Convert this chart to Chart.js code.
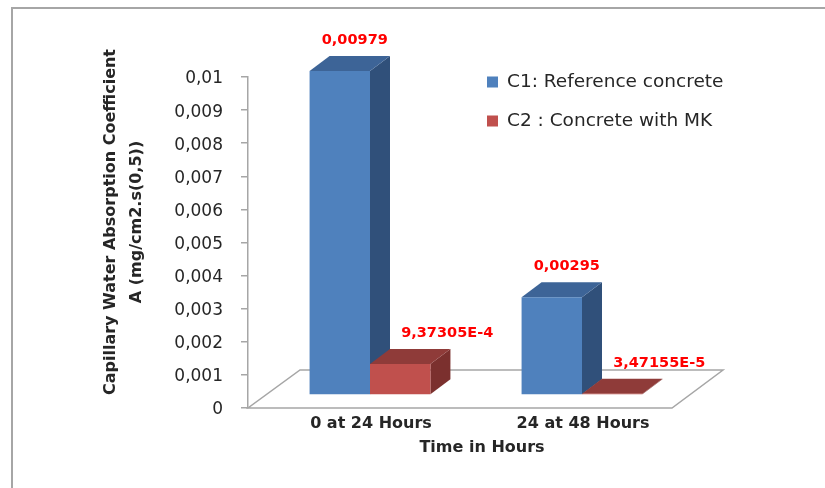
<!DOCTYPE html>
<html>
<head>
<meta charset="utf-8">
<script src="https://cdn.jsdelivr.net/npm/chart.js@4.4.0/dist/chart.umd.min.js"></script>
<style>
  html, body { margin: 0; padding: 0; background: #fff; }
</style>
</head>
<body>
<canvas id="myChart" width="825" height="488"></canvas>
<script>
// Datos del grafico
const categorias = ["0 at 24 Hours", "24 at 48 Hours"];
const nombresSeries = ["C1: Reference concrete", "C2 : Concrete with MK"];
const valoresC1 = [0.00979, 0.00295];
const valoresC2 = [0.000937305, 0.0000347155];
const tituloY = ["Capillary Water Absorption Coefficient", "A (mg/cm2.s(0,5))"];
const tituloX = "Time in Hours";

// Colores estilo Excel 2007 (frente, arriba, lado)
const coloresC1 = { frente: "#4F81BD", arriba: "#3D6497", lado: "#30507A" };
const coloresC2 = { frente: "#C0504D", arriba: "#8F3B39", lado: "#7B302E" };

const FUENTE = "'DejaVu Sans', sans-serif";
Chart.defaults.font.family = FUENTE;

// desplazamiento de las barras hacia el fondo y profundidad de las barras
const DX = 16, DY = -13;
const PROF_X = 20, PROF_Y = -15;

function formatoEtiqueta(v) {
    if (v < 0.001) return v.toExponential(5).replace(".", ",").replace("e", "E");
    return String(v).replace(".", ",");
}

const efecto3D = {
    id: "efecto3D",
    beforeDatasetsDraw(chart) {
        const ctx = chart.ctx;
        const a = chart.chartArea;

        // piso
        ctx.save();
        ctx.beginPath();
        ctx.moveTo(a.left, a.bottom);
        ctx.lineTo(a.right, a.bottom);
        ctx.lineTo(a.right + 51, a.bottom - 38);
        ctx.lineTo(a.left + 52, a.bottom - 38);
        ctx.closePath();
        ctx.fillStyle = "#ffffff";
        ctx.fill();
        ctx.strokeStyle = "#a6a6a6";
        ctx.lineWidth = 1.5;
        ctx.stroke();
        ctx.restore();

        ctx.save();
        ctx.translate(DX, DY);

        // caras laterales y superiores, categoria por categoria
        const colores = [coloresC1, coloresC2];
        for (let i = 0; i < categorias.length; i++) {
            chart.data.datasets.forEach((ds, d) => {
                const el = chart.getDatasetMeta(d).data[i];
                const p = el.getProps(["x", "y", "base", "width"], true);
                const izq = p.x - p.width / 2, der = p.x + p.width / 2;
                // lado
                ctx.beginPath();
                ctx.moveTo(der, p.y);
                ctx.lineTo(der + PROF_X, p.y + PROF_Y);
                ctx.lineTo(der + PROF_X, p.base + PROF_Y);
                ctx.lineTo(der, p.base);
                ctx.closePath();
                ctx.fillStyle = colores[d].lado;
                ctx.fill();
                // arriba
                ctx.beginPath();
                ctx.moveTo(izq, p.y);
                ctx.lineTo(izq + PROF_X, p.y + PROF_Y);
                ctx.lineTo(der + PROF_X, p.y + PROF_Y);
                ctx.lineTo(der, p.y);
                ctx.closePath();
                ctx.fillStyle = colores[d].arriba;
                ctx.fill();
            });
        }
    },
    afterDatasetsDraw(chart) {
        const ctx = chart.ctx;
        ctx.restore();

        // etiquetas de datos
        const offsets = [15, 47];
        ctx.save();
        ctx.font = "bold 14.5px " + FUENTE;
        ctx.fillStyle = "#ff0000";
        ctx.textAlign = "center";
        ctx.textBaseline = "middle";
        chart.data.datasets.forEach((ds, d) => {
            chart.getDatasetMeta(d).data.forEach((el, i) => {
                const p = el.getProps(["x", "y"], true);
                ctx.fillText(formatoEtiqueta(ds.data[i]), p.x + DX + offsets[d], p.y + DY - 31);
            });
        });
        ctx.restore();
    },
    afterDraw(chart) {
        const ctx = chart.ctx;
        ctx.save();

        // marco exterior
        ctx.strokeStyle = "#a6a6a6";
        ctx.lineWidth = 2;
        ctx.strokeRect(12, 8, 900, 600);

        // leyenda
        ctx.font = "18.5px " + FUENTE;
        ctx.textBaseline = "middle";
        ctx.textAlign = "left";
        chart.data.datasets.forEach((ds, d) => {
            const y = 82 + d * 39;
            ctx.fillStyle = ds.backgroundColor;
            ctx.fillRect(487, y - 5.5, 11, 11);
            ctx.fillStyle = "#262626";
            ctx.fillText(ds.label, 507, y);
        });

        // titulos de ejes
        ctx.font = "bold 16px " + FUENTE;
        ctx.textAlign = "center";
        ctx.fillText(tituloX, 482, 448);
        ctx.translate(0, 222);
        ctx.rotate(-Math.PI / 2);
        ctx.fillText(tituloY[0], 0, 111);
        ctx.fillText(tituloY[1], 0, 137);
        ctx.restore();
    }
};

const ctx = document.getElementById("myChart").getContext("2d");
const myChart = new Chart(ctx, {
    type: "bar",
    data: {
        labels: categorias,
        datasets: [
            {
                label: nombresSeries[0],
                data: valoresC1,
                backgroundColor: coloresC1.frente,
                borderWidth: 0
            },
            {
                label: nombresSeries[1],
                data: valoresC2,
                backgroundColor: coloresC2.frente,
                borderWidth: 0
            }
        ]
    },
    options: {
        responsive: false,
        animation: false,
        devicePixelRatio: 1,
        categoryPercentage: 0.57,
        barPercentage: 1.0,
        layout: { padding: { top: 77, right: 153, left: 0, bottom: 0 } },
        scales: {
            x: {
                grid: { display: false, drawTicks: false },
                border: { display: false },
                ticks: {
                    color: "#262626",
                    font: { size: 16, weight: "bold" },
                    padding: 6,
                    labelOffset: 17
                },
                afterFit: (scale) => { scale.height = 80; }
            },
            y: {
                min: 0,
                max: 0.01,
                grid: {
                    drawOnChartArea: false,
                    drawTicks: true,
                    tickLength: 7,
                    color: "#a6a6a6",
                    lineWidth: 1.5
                },
                border: { display: true, color: "#a6a6a6", width: 1.5 },
                ticks: {
                    stepSize: 0.001,
                    color: "#262626",
                    font: { size: 17 },
                    padding: 18,
                    labelOffset: 2,
                    callback: (v) => String(+v.toFixed(3)).replace(".", ",")
                },
                afterFit: (scale) => { scale.width = 248; }
            }
        },
        plugins: {
            legend: { display: false },
            tooltip: { enabled: false }
        }
    },
    plugins: [efecto3D]
});
</script>
</body>
</html>
